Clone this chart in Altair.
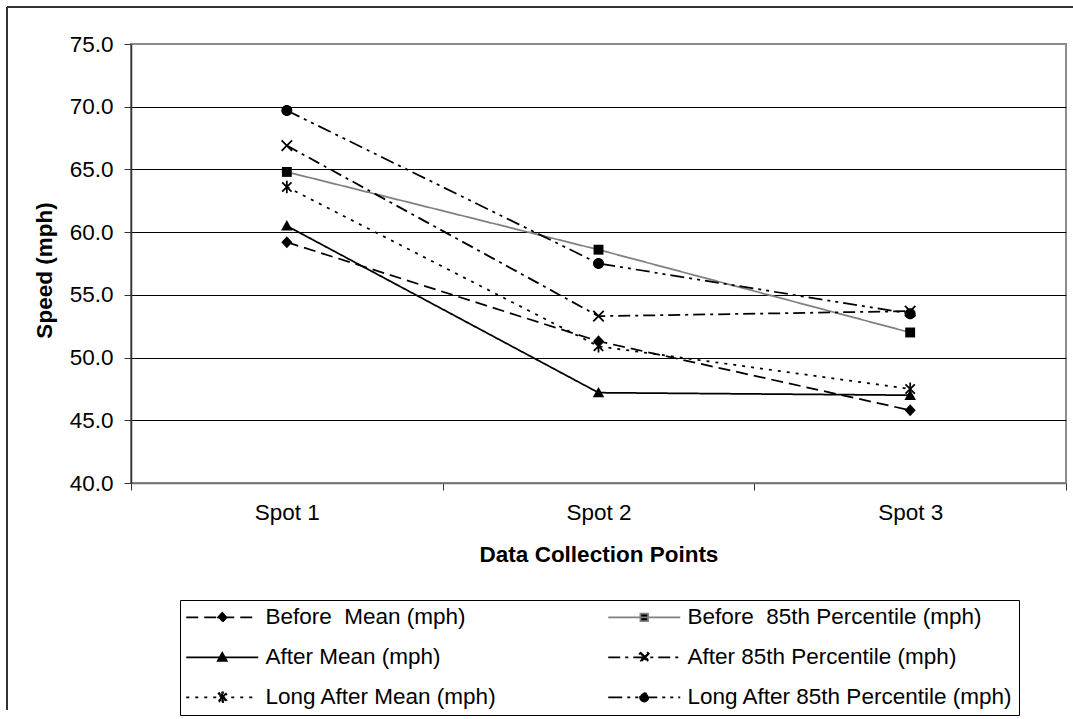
import altair as alt
import pandas as pd

spots = ["Spot 1", "Spot 2", "Spot 3"]
series = [
    "Before\u00a0 Mean (mph)",
    "Before\u00a0 85th Percentile (mph)",
    "After Mean (mph)",
    "After 85th Percentile (mph)",
    "Long After Mean (mph)",
    "Long After 85th Percentile (mph)",
]
before_mean = [59.2, 51.3, 45.8]
before_85 = [64.8, 58.6, 52.0]
after_mean = [60.5, 47.2, 47.0]
after_85 = [66.9, 53.3, 53.7]
long_after_mean = [63.6, 50.9, 47.5]
long_after_85 = [69.7, 57.5, 53.5]
y_ticks = [40, 45, 50, 55, 60, 65, 70, 75]

values_by_series = [before_mean, before_85, after_mean, after_85, long_after_mean, long_after_85]

rows = []
for name, vals in zip(series, values_by_series):
    for spot, v in zip(spots, vals):
        rows.append({"series": name, "spot": spot, "value": v})
df = pd.DataFrame(rows)

line_colors = ["black", "#808080", "black", "black", "black", "black"]
dashes = [[12, 6], [1, 0], [1, 0], [12, 5, 3, 5], [3, 6], [14, 5, 3, 5, 3, 5]]


def xshape(a, t):
    d = t / (2 * 2 ** 0.5)
    r1 = f"M{-a-d:.3f},{-a+d:.3f}L{-a+d:.3f},{-a-d:.3f}L{a+d:.3f},{a-d:.3f}L{a-d:.3f},{a+d:.3f}Z"
    r2 = f"M{a-d:.3f},{-a-d:.3f}L{a+d:.3f},{-a+d:.3f}L{-a+d:.3f},{a+d:.3f}L{-a-d:.3f},{a-d:.3f}Z"
    return r1 + r2


def vbar(h, w):
    return f"M{-w},{-h}L{w},{-h}L{w},{h}L{-w},{h}Z"


def marker_paths(k, t):
    return [
        f"M0,{-1.1*k}L{1.0*k},0L0,{1.1*k}L{-1.0*k},0Z",
        f"M{-0.9*k},{-0.9*k}H{0.9*k}V{0.9*k}H{-0.9*k}Z",
        f"M0,{-1.05*k}L{1.05*k},{0.85*k}L{-1.05*k},{0.85*k}Z",
        xshape(0.95 * k, t),
        xshape(0.85 * k, t) + vbar(1.15 * k, t / 2),
        f"M{1.0*k},0A{k},{k},0,1,1,{-1.0*k},0A{k},{k},0,1,1,{1.0*k},0Z",
    ]


plot_markers = marker_paths(1.0, 0.32)
legend_line = "M-7.2,0L7.2,0"
legend_markers = [legend_line + p for p in marker_paths(0.85, 0.3)]

FS = 22.5

x_enc = alt.X(
    "spot:N",
    scale=alt.Scale(type="band", domain=spots, paddingInner=0, paddingOuter=0),
    bandPosition=0.5,
    title="Data Collection Points",
    axis=alt.Axis(
        labelAngle=0, tickBand="extent", tickSize=7, tickColor="#333333",
        domainColor="#707070", domainWidth=1.5, labelPadding=11, titlePadding=20,
        titleFontWeight="bold", grid=False,
    ),
)
y_enc = alt.Y(
    "value:Q",
    scale=alt.Scale(domain=[40, 75], nice=False, zero=False),
    title="Speed (mph)",
    axis=alt.Axis(
        values=y_ticks, format=".1f", tickSize=7, tickColor="#333333",
        domainColor="#333333", domainWidth=1.5, labelPadding=11, titlePadding=13,
        titleFontWeight="bold", titleY=226, grid=True, gridWidth=1,
        gridColor={"condition": {"test": "datum.value === 75 || datum.value === 40", "value": "#8c8c8c"}, "value": "black"},
    ),
)

base = alt.Chart(df)

lines = base.mark_line(strokeWidth=1.75).encode(
    x=x_enc, y=y_enc,
    stroke=alt.Stroke("series:N", scale=alt.Scale(domain=series, range=line_colors), legend=None),
    strokeDash=alt.StrokeDash("series:N", scale=alt.Scale(domain=series, range=dashes), legend=None),
)

points = base.mark_point(filled=True, size=121, opacity=1, color="black", strokeWidth=0).encode(
    x=x_enc, y=y_enc,
    shape=alt.Shape("series:N", scale=alt.Scale(domain=series, range=plot_markers), legend=None),
)

leg = alt.Legend(
    title=None, orient="none", direction="horizontal", legendX=49, legendY=556, columns=2,
    columnPadding=107, rowPadding=17, padding=6, strokeColor="black", fillColor="white",
    labelFont="Liberation Sans", labelFontSize=FS, labelColor="black", labelLimit=500,
    symbolSize=100, symbolStrokeWidth=1.75, symbolOffset=25, labelOffset=32,
)

legend_layer = base.transform_filter("false").mark_point(
    filled=False, fill="black", opacity=1, strokeWidth=1.75, size=100
).encode(
    x=x_enc, y=y_enc,
    color=alt.Color("series:N", scale=alt.Scale(domain=series, range=line_colors), legend=leg),
    shape=alt.Shape("series:N", scale=alt.Scale(domain=series, range=legend_markers), legend=leg),
    strokeDash=alt.StrokeDash("series:N", scale=alt.Scale(domain=series, range=dashes), legend=leg),
)

blank = alt.Data(values=[{}])
frame_top = alt.Chart(blank).mark_rule(color="#333333", strokeWidth=2).encode(
    x=alt.value(-124), x2=alt.value(960), y=alt.value(-37)
)
frame_left = alt.Chart(blank).mark_rule(color="#333333", strokeWidth=2).encode(
    x=alt.value(-124), y=alt.value(-37), y2=alt.value(666)
)

chart = (
    alt.layer(lines, points, legend_layer, frame_top, frame_left)
    .resolve_scale(shape="independent", strokeDash="independent", color="independent", stroke="independent")
    .properties(
        width=935, height=439,
        autosize=alt.AutoSizeParams(type="none"),
        padding={"left": 131, "top": 44, "right": 7, "bottom": 236},
        background="white",
    )
    .configure_view(stroke="#8c8c8c", strokeWidth=2)
    .configure_axis(
        labelFont="Liberation Sans", titleFont="Liberation Sans",
        labelFontSize=FS, titleFontSize=FS, labelColor="black", titleColor="black",
    )
)

chart.save("out.html", embed_options={"renderer": "svg", "actions": False})
